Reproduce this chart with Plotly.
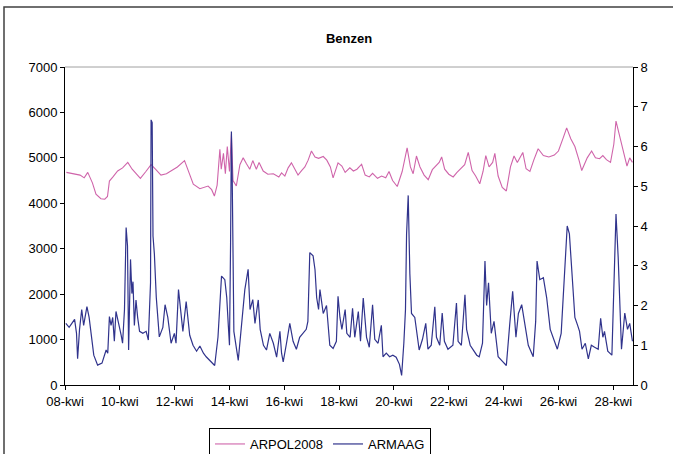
import pandas as pd
import plotly.graph_objects as go

# ---- data (days since 08-kwi 00:00, values) ----
tick_labels = ["08-kwi", "10-kwi", "12-kwi", "14-kwi", "16-kwi", "18-kwi",
               "20-kwi", "22-kwi", "24-kwi", "26-kwi", "28-kwi"]

arpol_days = [0.05, 0.3, 0.55, 0.7, 0.83, 1.0, 1.13, 1.31, 1.45, 1.55, 1.62, 1.75, 1.92, 2.1, 2.29,
              2.45, 2.6, 2.75, 2.95, 3.14, 3.3, 3.5, 3.7, 3.9, 4.1, 4.36, 4.5, 4.68, 4.92, 5.22,
              5.35, 5.45, 5.55, 5.65, 5.7, 5.78, 5.85, 5.92, 6.0, 6.07, 6.13, 6.25, 6.38, 6.5,
              6.62, 6.74, 6.85, 6.98, 7.08, 7.23, 7.4, 7.6, 7.8, 7.9, 8.02, 8.14, 8.26, 8.4,
              8.5, 8.63, 8.75, 8.87, 8.99, 9.12, 9.25, 9.42, 9.55, 9.68, 9.78, 9.96, 10.1,
              10.22, 10.39, 10.52, 10.65, 10.82, 10.95, 11.1, 11.22, 11.4, 11.55, 11.7, 11.82,
              11.95, 12.05, 12.12, 12.3, 12.48, 12.6, 12.7, 12.82, 12.95, 13.1, 13.25, 13.4,
              13.55, 13.65, 13.74, 13.85, 14.0, 14.16, 14.3, 14.45, 14.58, 14.71, 14.85, 14.98,
              15.13, 15.25, 15.35, 15.47, 15.6, 15.68, 15.8, 15.95, 16.1, 16.25, 16.38, 16.5,
              16.6, 16.7, 16.82, 16.96, 17.1, 17.26, 17.45, 17.65, 17.85, 18.0, 18.18, 18.3,
              18.45, 18.6, 18.75, 18.85, 19.05, 19.21, 19.35, 19.5, 19.62, 19.75, 19.9, 20.02,
              20.1, 20.25, 20.38, 20.5, 20.6, 20.7]
arpol_vals = [4680, 4650, 4620, 4560, 4680, 4450, 4200, 4100, 4090, 4150, 4490, 4580, 4710, 4780, 4900,
              4750, 4650, 4550, 4700, 4850, 4750, 4620, 4650, 4720, 4800, 4940, 4700, 4420, 4320, 4380,
              4300, 4160, 4400, 5190, 4750, 5100, 4650, 5250, 4700, 5520, 4500, 4380, 4850, 5000,
              4870, 4750, 4940, 4750, 4900, 4710, 4640, 4650, 4580, 4670, 4600, 4780, 4890, 4750,
              4620, 4720, 4800, 4950, 5150, 5020, 4990, 5030, 4950, 4800, 4560, 4890, 4820,
              4680, 4780, 4710, 4750, 4860, 4620, 4580, 4660, 4550, 4600, 4560, 4700,
              4500, 4420, 4370, 4700, 5220, 4800, 4650, 5040, 4800, 4620, 4520, 4740,
              4850, 4900, 5020, 4750, 4640, 4580, 4680, 4760, 4850, 5120, 4720, 4600,
              4430, 4700, 5050, 4800, 4900, 5100, 4600, 4350, 4270, 4800, 5040, 4900,
              5000, 5120, 4760, 4700, 4950, 5200, 5050, 5020, 5060, 5150, 5450, 5660,
              5420, 5250, 4950, 4720, 5000, 5150, 5000, 4980, 5050, 4960, 4900, 5300,
              5810, 5450, 5100, 4820, 5000, 4900]

armaag_days = [0.03, 0.15, 0.25, 0.35, 0.42, 0.46, 0.53, 0.61, 0.68, 0.8, 0.88, 0.95, 1.05, 1.19, 1.35,
               1.5, 1.56, 1.62, 1.68, 1.74, 1.8, 1.86, 1.95, 2.05, 2.1, 2.17, 2.23, 2.28, 2.32, 2.39,
               2.44, 2.48, 2.53, 2.59, 2.65, 2.72, 2.84, 2.96, 3.04, 3.12, 3.14, 3.18, 3.21, 3.26,
               3.33, 3.44, 3.57, 3.65, 3.75, 3.87, 3.99, 4.05, 4.14, 4.22, 4.3, 4.42, 4.55, 4.67,
               4.8, 4.92, 5.05, 5.15, 5.3, 5.46, 5.58, 5.71, 5.83, 5.9, 5.96, 6.0, 6.04, 6.07, 6.1,
               6.16, 6.32, 6.44, 6.56, 6.68, 6.75, 6.85, 6.93, 7.05, 7.12, 7.24, 7.35, 7.47, 7.6,
               7.72, 7.84, 7.9, 7.96, 8.08, 8.2, 8.32, 8.44, 8.56, 8.68, 8.8, 8.86, 8.93, 9.05,
               9.12, 9.18, 9.25, 9.3, 9.42, 9.54, 9.66, 9.78, 9.9, 9.96, 10.03, 10.1, 10.22, 10.28,
               10.4, 10.49, 10.57, 10.7, 10.78, 10.88, 11.0, 11.1, 11.22, 11.3, 11.42, 11.54, 11.6,
               11.72, 11.84, 11.96, 12.08, 12.2, 12.28, 12.36, 12.42, 12.46, 12.52, 12.58, 12.64,
               12.76, 12.85, 12.92, 13.04, 13.16, 13.24, 13.36, 13.49, 13.55, 13.67, 13.76, 13.84,
               13.97, 14.15, 14.28, 14.34, 14.46, 14.59, 14.65, 14.78, 14.9, 15.02, 15.11, 15.23,
               15.32, 15.38, 15.45, 15.55, 15.65, 15.8, 15.95, 16.1, 16.22, 16.33, 16.45, 16.54,
               16.66, 16.78, 16.9, 17.08, 17.17, 17.22, 17.32, 17.45, 17.57, 17.7, 17.82, 17.96,
               18.1, 18.2, 18.32, 18.4, 18.48, 18.6, 18.7, 18.77, 18.86, 18.98, 19.09, 19.2, 19.32,
               19.45, 19.54, 19.62, 19.68, 19.8, 19.95, 20.02, 20.1, 20.18, 20.25, 20.3, 20.42,
               20.52, 20.6, 20.7]
armaag_vals = [1.55, 1.45, 1.55, 1.65, 1.3, 0.66, 1.4, 1.9, 1.5, 1.97, 1.7, 1.3, 0.75, 0.5, 0.55,
               0.88, 0.8, 1.72, 1.5, 1.7, 1.1, 1.85, 1.6, 1.25, 1.05, 1.9, 3.96, 3.5, 0.88, 3.16,
               2.3, 2.6, 1.5, 2.14, 1.7, 1.35, 1.3, 1.35, 1.13, 2.57, 6.67, 6.6, 3.75, 3.3,
               2.2, 1.21, 1.45, 2.02, 1.7, 1.05, 1.3, 1.05, 2.4, 1.8, 1.35, 2.1, 1.25, 1.0,
               0.85, 0.98, 0.8, 0.71, 0.6, 0.49, 1.2, 2.74, 2.65, 2.2, 1.47, 1.0, 3.58, 6.38, 5.2,
               1.35, 0.62, 1.5, 2.4, 2.91, 1.9, 2.15, 1.55, 2.14, 1.4, 1.0, 0.88, 1.3, 1.05,
               0.7, 1.35, 0.8, 0.58, 1.05, 1.55, 1.1, 0.9, 1.2, 1.3, 1.4, 1.6, 3.33, 3.25,
               2.9, 2.2, 1.9, 2.4, 1.8, 2.0, 1.0, 0.92, 1.1, 2.23, 1.7, 1.4, 1.9, 1.3,
               1.2, 1.93, 1.2, 1.85, 1.1, 2.19, 1.2, 0.95, 2.02, 1.15, 1.05, 1.5, 0.71,
               0.8, 0.71, 0.75, 0.7, 0.52, 0.24, 1.05, 1.89, 3.8, 4.77, 2.8, 1.8,
               1.7, 1.2, 0.88, 1.15, 1.55, 0.9, 1.0, 1.97, 1.2, 1.0, 1.81, 1.1,
               0.9, 1.0, 2.06, 1.1, 1.0, 2.27, 1.4, 1.0, 0.88, 0.75, 0.71, 1.05,
               3.12, 2.0, 2.57, 1.3, 1.6, 0.71, 0.6, 0.49, 1.5, 2.36, 1.2, 1.8,
               2.02, 1.5, 1.0, 0.71, 1.6, 3.12, 2.65, 2.7, 2.2, 1.4, 1.15, 0.9,
               1.3, 2.57, 4.0, 3.8, 3.0, 1.7, 1.5, 1.35, 0.9, 1.05, 0.66, 1.0, 0.95,
               0.9, 1.68, 1.2, 1.35, 0.85, 0.75, 2.3, 4.3, 3.2, 1.9, 0.9, 1.81,
               1.4, 1.55, 1.1]

base = pd.Timestamp("2008-04-08")
x_arpol = base + pd.to_timedelta(arpol_days, unit="D")
x_armaag = base + pd.to_timedelta(armaag_days, unit="D")
tick_vals = [base + pd.Timedelta(days=2 * i) for i in range(len(tick_labels))]

FONT = "Liberation Sans, Arial, sans-serif"
W, H = 673, 454
L, R, T, B = 65, 633, 67, 385

fig = go.Figure()
fig.add_trace(go.Scatter(x=x_arpol, y=arpol_vals, name="ARPOL2008", mode="lines",
                         line=dict(color="#CF64AA", width=1.1), yaxis="y"))
fig.add_trace(go.Scatter(x=x_armaag, y=armaag_vals, name="ARMAAG", mode="lines",
                         line=dict(color="#30338C", width=1.2), yaxis="y2"))

axis_common = dict(showgrid=False, zeroline=False, showline=True, linecolor="#000000",
                   linewidth=1, ticks="outside", ticklen=4, tickcolor="#000000",
                   tickfont=dict(family=FONT, size=13, color="#000000"))

fig.update_layout(
    width=W, height=H,
    margin=dict(l=L, r=W - R, t=T, b=H - B, pad=0, autoexpand=False),
    paper_bgcolor="white", plot_bgcolor="white",
    title=dict(text="<b>Benzen</b>", x=0.5, xref="paper", xanchor="center",
               y=1 - 38 / H, yref="container", yanchor="middle",
               font=dict(family=FONT, size=13, color="#000000")),
    xaxis=dict(range=[base, base + pd.Timedelta(days=20.72)], tickvals=tick_vals,
               ticktext=tick_labels, **axis_common),
    yaxis=dict(range=[0, 7000], dtick=1000, tickformat="d", **axis_common),
    yaxis2=dict(range=[0, 8], dtick=1, overlaying="y", side="right", **axis_common),
    legend=dict(orientation="h", x=320 / W, xref="container", xanchor="center",
                y=1 - 428 / H, yref="container", yanchor="top",
                bordercolor="#000000", borderwidth=1, bgcolor="white",
                font=dict(family=FONT, size=13, color="#000000"),
                itemwidth=30, tracegroupgap=0),
    showlegend=True,
)

pw, ph = R - L, B - T
def px_x(p):
    return (p - L) / pw
def px_y(p):
    return (B - p) / ph

# top border of plot area (gray)
fig.add_shape(type="line", xref="paper", yref="paper", x0=0, x1=1, y0=1, y1=1,
              line=dict(color="#A0A0A0", width=1))
# outer chart border
fig.add_shape(type="rect", xref="paper", yref="paper", x0=px_x(4), x1=px_x(690),
              y0=px_y(480), y1=px_y(7), line=dict(color="#404040", width=1.5),
              fillcolor="rgba(0,0,0,0)", layer="below")

fig.write_html("out.html", config={"displayModeBar": False},
               post_script="document.body.style.margin='0px';"
               "document.body.style.overflow='hidden';")
